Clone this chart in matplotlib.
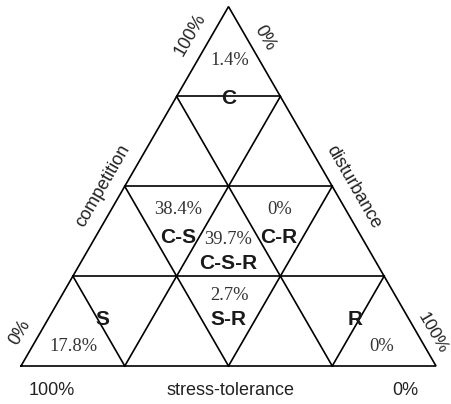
import numpy as np
import matplotlib
matplotlib.use("Agg")
import matplotlib.pyplot as plt

# CSR strategy classes and share of species in each class
strategies = ["C", "C-S", "C-R", "C-S-R", "S", "S-R", "R"]
shares = ["1.4%", "38.4%", "0%", "39.7%", "17.8%", "2.7%", "0%"]

# axis names and end labels
axis_names = ["competition", "stress-tolerance", "disturbance"]
comp_ends = ["100%", "0%"]
stress_ends = ["100%", "0%"]
dist_ends = ["0%", "100%"]

n_div = 4

# layout (unit triangle, base from (0,0) to (1,0))
h = np.sqrt(3) / 2
L = np.array([0.0, 0.0])
R = np.array([1.0, 0.0])
T = np.array([0.5, h])

label_pos = {"C": (0.501, 0.645), "C-S": (0.378, 0.310), "C-R": (0.621, 0.310),
             "C-S-R": (0.500, 0.246), "S": (0.195, 0.113), "S-R": (0.500, 0.113),
             "R": (0.805, 0.113)}
share_pos = {"C": (0.503, 0.737), "C-S": (0.378, 0.377), "C-R": (0.623, 0.377),
             "C-S-R": (0.500, 0.306), "S": (0.126, 0.047), "S-R": (0.503, 0.169),
             "R": (0.870, 0.048)}

fig = plt.figure(figsize=(4.52, 4.04), dpi=100)
ax = fig.add_axes([0, 0, 1, 1])
ax.set_xlim(-21 / 415, 431 / 415)
ax.set_ylim(-38 / 415, 366 / 415)
ax.axis("off")

lw = 1.2
# outline
tri = np.array([L, R, T, L])
ax.plot(tri[:, 0], tri[:, 1], color="black", lw=lw, solid_joinstyle="miter")

# grid lines parallel to each side
for k in range(1, n_div):
    f = k / n_div
    # horizontal (parallel to base)
    a = L + f * (T - L)
    b = R + f * (T - R)
    ax.plot([a[0], b[0]], [a[1], b[1]], color="black", lw=lw)
    # parallel to left side
    a = L + f * (R - L)
    b = R + (1 - f) * (T - R)
    ax.plot([a[0], b[0]], [a[1], b[1]], color="black", lw=lw)
    # parallel to right side
    a = L + f * (R - L)
    b = L + f * (T - L)
    ax.plot([a[0], b[0]], [a[1], b[1]], color="black", lw=lw)

serif = "Liberation Serif"
sans = "Liberation Sans"

for name, pct in zip(strategies, shares):
    x, y = label_pos[name]
    ax.text(x, y, name, ha="center", va="center", fontsize=15, fontweight="bold",
            family=sans, color="#1a1a1a")
    x, y = share_pos[name]
    ax.text(x, y, pct, ha="center", va="center", fontsize=13.3, family=serif,
            color="#333333")

# bottom axis
ax.text(0.5055, -0.058, axis_names[1], ha="center", va="center", fontsize=13,
        family=sans, color="#222222")
ax.text(0.0747, -0.058, stress_ends[0], ha="center", va="center", fontsize=13,
        family=sans, color="#222222")
ax.text(0.925, -0.058, stress_ends[1], ha="center", va="center", fontsize=13,
        family=sans, color="#222222")

# left side (competition)
ax.text(0.198, 0.434, axis_names[0], ha="center", va="center", fontsize=13,
        family=sans, rotation=60, color="#222222", rotation_mode="anchor")
ax.text(0.407, 0.798, comp_ends[0], ha="center", va="center", fontsize=13,
        family=sans, rotation=60, color="#222222", rotation_mode="anchor")
ax.text(-0.003, 0.082, comp_ends[1], ha="center", va="center", fontsize=13,
        family=sans, rotation=60, color="#222222", rotation_mode="anchor")

# right side (disturbance)
ax.text(0.800, 0.431, axis_names[2], ha="center", va="center", fontsize=13,
        family=sans, rotation=-60, color="#222222", rotation_mode="anchor")
ax.text(0.588, 0.790, dist_ends[0], ha="center", va="center", fontsize=13,
        family=sans, rotation=-60, color="#222222", rotation_mode="anchor")
ax.text(0.993, 0.079, dist_ends[1], ha="center", va="center", fontsize=12.5,
        family=sans, rotation=-60, color="#222222", rotation_mode="anchor")

fig.savefig("out.png", dpi=100)
